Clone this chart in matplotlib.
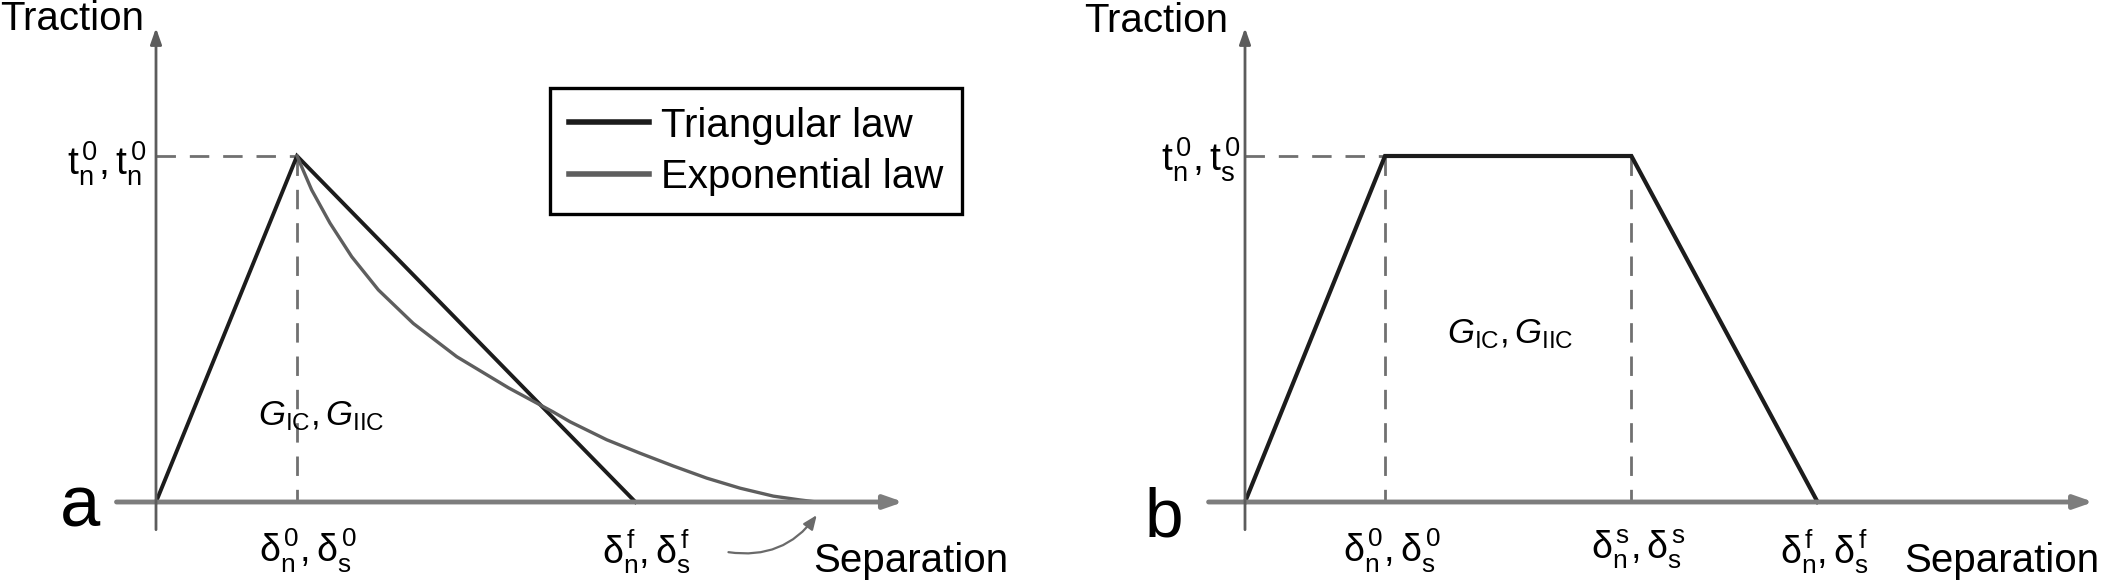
import matplotlib.pyplot as plt

plt.rcParams["font.family"] = ["Liberation Sans", "DejaVu Sans"]
plt.rcParams["mathtext.fontset"] = "custom"
plt.rcParams["mathtext.rm"] = "Liberation Sans"
plt.rcParams["mathtext.it"] = "Liberation Sans:italic"
plt.rcParams["mathtext.bf"] = "Liberation Sans:bold"

# ---------------------------------------------------------------------------
# Data (separation in units of delta0, traction in units of t0)
# ---------------------------------------------------------------------------
# panel a: triangular and exponential laws
TRI_SEP = [0.0, 1.0, 3.40]
TRI_TRAC = [0.0, 1.0, 0.0]
EXP_SEP = [1.0, 1.104, 1.234, 1.388, 1.577, 1.825, 2.133, 2.50, 2.818,
           2.936, 3.196, 3.433, 3.669, 3.906, 4.142, 4.378, 4.567, 4.686]
EXP_TRAC = [1.0, 0.902, 0.806, 0.709, 0.613, 0.516, 0.420, 0.330, 0.260,
            0.232, 0.180, 0.141, 0.104, 0.069, 0.040, 0.017, 0.006, 0.0]
A_TICKS = [1.0, 3.40]
A_TICK_LABELS = [r"$\mathrm{\delta_n^{\,0},\delta_s^{\,0}}$",
                 r"$\mathrm{\delta_n^{\,f},\delta_s^{\,f}}$"]
A_TRACTION_LABEL = r"$\mathrm{t_n^{\,0},t_n^{\,0}}$"

# panel b: trapezoidal law
TRAP_SEP = [0.0, 1.0, 2.76, 4.09]
TRAP_TRAC = [0.0, 1.0, 1.0, 0.0]
B_TICKS = [1.0, 2.76, 4.09]
B_TICK_LABELS = [r"$\mathrm{\delta_n^{\,0},\delta_s^{\,0}}$",
                 r"$\mathrm{\delta_n^{\,s},\delta_s^{\,s}}$",
                 r"$\mathrm{\delta_n^{\,f},\delta_s^{\,f}}$"]
B_TRACTION_LABEL = r"$\mathrm{t_n^{\,0},t_s^{\,0}}$"

ENERGY_LABEL = r"$G_{\mathrm{IC}},G_{\mathrm{IIC}}$"
LEGEND_LABELS = ["Triangular law", "Exponential law"]

# ---------------------------------------------------------------------------
# Figure layout (pixel based, dpi 100)
# ---------------------------------------------------------------------------
W, H = 2104, 583
UNIT_Y = 346.0  # pixels per t0

fig = plt.figure(figsize=(W / 100, H / 100), dpi=100)


def make_axes(left_px, width_px, ox, oy, unit_x):
    ax = fig.add_axes([left_px / W, 0, width_px / W, 1])
    ax.set_xlim((left_px - ox) / unit_x, (left_px + width_px - ox) / unit_x)
    ax.set_ylim((oy - H) / UNIT_Y, oy / UNIT_Y)
    ax.set_axis_off()
    return ax


def draw_axes(ax, x0, x1, y0, y1):
    ax.annotate("", xy=(x1, 0), xytext=(x0, 0),
                arrowprops=dict(arrowstyle="-|>,head_length=0.8,head_width=0.28",
                                mutation_scale=14, lw=3.5, color="#7d7d7d",
                                shrinkA=0, shrinkB=0))
    ax.annotate("", xy=(0, y1), xytext=(0, y0),
                arrowprops=dict(arrowstyle="-|>,head_length=0.8,head_width=0.28",
                                mutation_scale=12, lw=2.0, color="#5c5c5c",
                                shrinkA=0, shrinkB=0))


DASH = dict(color="#707070", lw=2.0, linestyle=(0, (7, 5)))
TXT = 29

# ---------------------------------------------------------------------------
# Panel a
# ---------------------------------------------------------------------------
ax1 = make_axes(0, 1050, 156, 502, 141.0)
draw_axes(ax1, -0.28, 5.30, -0.08, 1.37)

ax1.plot([0, TRI_SEP[1]], [1, 1], **DASH)
ax1.plot([TRI_SEP[1], TRI_SEP[1]], [1, 0], **DASH)
l_tri, = ax1.plot(TRI_SEP, TRI_TRAC, color="#1c1c1c", lw=2.8,
                  solid_joinstyle="miter", label=LEGEND_LABELS[0])
l_exp, = ax1.plot(EXP_SEP, EXP_TRAC, color="#5e5e5e", lw=2.4,
                  solid_joinstyle="round", label=LEGEND_LABELS[1])

ax1.text(-1.106, 1.364, "Traction", fontsize=TXT, ha="left", va="baseline")
ax1.text(-0.064, 0.977, A_TRACTION_LABEL, fontsize=28, ha="right", va="center")
ax1.text(0.723, 0.2225, ENERGY_LABEL, fontsize=25, ha="left", va="baseline")
for xt, lab in zip(A_TICKS, A_TICK_LABELS):
    ax1.text(xt + 0.08, -0.072, lab, fontsize=27, ha="center", va="top")
ax1.text(4.66, -0.202, "Separation", fontsize=TXT, ha="left", va="baseline")
ax1.text(-0.68, -0.072, "a", fontsize=52, ha="left", va="baseline")

# curved pointer to the exponential-law failure separation
ax1.annotate("", xy=(EXP_SEP[-1], -0.038), xytext=(4.06, -0.145),
             arrowprops=dict(arrowstyle="-|>,head_length=0.6,head_width=0.25",
                             mutation_scale=14, lw=1.6, color="#6a6a6a",
                             connectionstyle="arc3,rad=0.3",
                             shrinkA=0, shrinkB=0))

leg = ax1.legend(handles=[l_tri, l_exp], loc="upper left",
                 bbox_to_anchor=(550 / W, 1 - 88 / H),
                 bbox_transform=fig.transFigure, borderaxespad=0,
                 fontsize=TXT, frameon=True, fancybox=False,
                 edgecolor="black", framealpha=1, borderpad=0.46,
                 handlelength=2.0, handletextpad=0.3, labelspacing=0.33)
leg.get_frame().set_linewidth(2.4)
for h in leg.get_lines():
    h.set_linewidth(4)

# ---------------------------------------------------------------------------
# Panel b
# ---------------------------------------------------------------------------
ax2 = make_axes(1050, 1054, 1245, 502, 140.0)
draw_axes(ax2, -0.26, 6.06, -0.08, 1.37)

ax2.plot([0, TRAP_SEP[1]], [1, 1], **DASH)
for xs in TRAP_SEP[1:3]:
    ax2.plot([xs, xs], [1, 0], **DASH)
ax2.plot(TRAP_SEP, TRAP_TRAC, color="#1c1c1c", lw=3.0, solid_joinstyle="miter")

ax2.text(-1.15, 1.358, "Traction", fontsize=TXT, ha="left", va="baseline")
ax2.text(-0.03, 0.988, B_TRACTION_LABEL, fontsize=28, ha="right", va="center")
ax2.text(1.443, 0.4595, ENERGY_LABEL, fontsize=25, ha="left", va="baseline")
for xt, lab in zip(B_TICKS, B_TICK_LABELS):
    ax2.text(xt + 0.05, -0.072, lab, fontsize=27, ha="center", va="top")
ax2.text(4.71, -0.202, "Separation", fontsize=TXT, ha="left", va="baseline")
ax2.text(-0.72, -0.101, "b", fontsize=50, ha="left", va="baseline")

fig.savefig("out.png", dpi=100)
